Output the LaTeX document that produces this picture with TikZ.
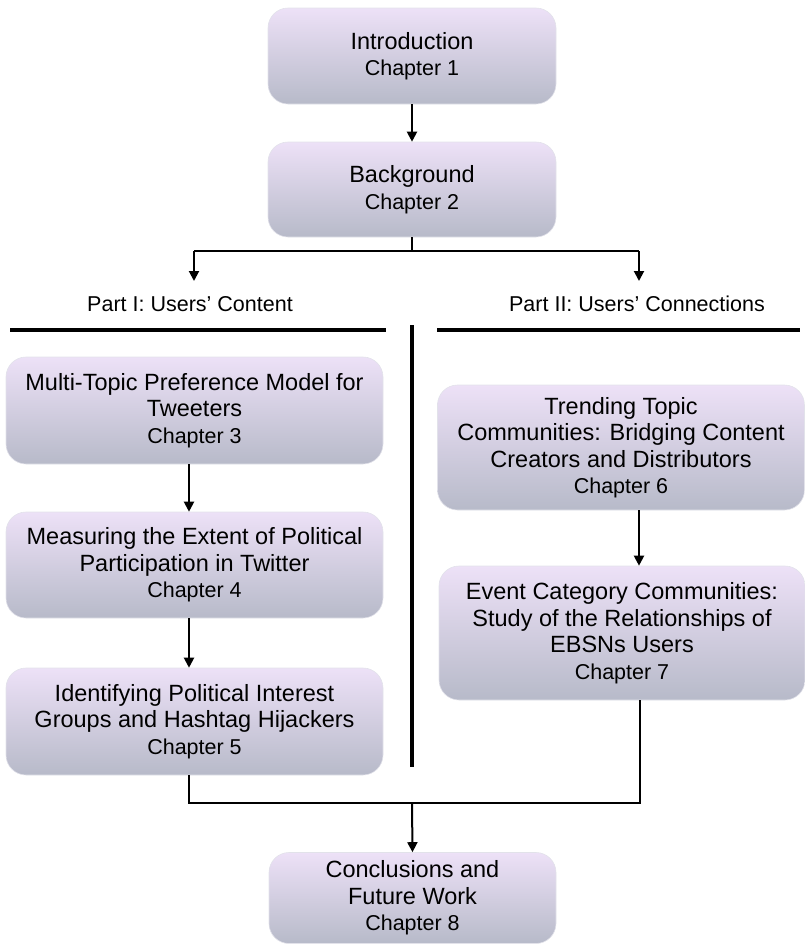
\documentclass[tikz,border=0pt]{standalone}
\usepackage{fontspec}
\setmainfont{Liberation Sans}
\usetikzlibrary{arrows.meta}
\definecolor{boxtop}{RGB}{237,225,247}
\definecolor{boxbot}{RGB}{183,186,201}
\definecolor{boxrim}{RGB}{226,226,234}
\newcommand\chapline[1]{{\fontsize{21.5}{26.5}\selectfont Chapter #1}}
\begin{document}
\begin{tikzpicture}[x=1pt,y=-1pt,
 chbox/.style={rounded corners=20pt, top color=boxtop, bottom color=boxbot, draw=boxrim, line width=0.6pt, align=center, inner sep=0pt, font=\fontsize{23.5}{26.5}\selectfont},
 conn/.style={line width=2pt, -{Triangle[width=10pt,length=10pt]}},
 plain/.style={line width=2pt},
 sepline/.style={line width=4pt},
 partlabel/.style={font=\fontsize{21.5}{24}\selectfont, inner sep=0pt, anchor=base}]
\useasboundingbox (0,0) rectangle (804,946);

% boxes
\node[chbox, minimum width=288pt, minimum height=96pt] (intro) at (412,56) {Introduction\\\chapline{1}};
\node[chbox, minimum width=288pt, minimum height=95pt] (bg) at (412,189.5) {Background\\\chapline{2}};

\node[chbox, minimum width=377pt, minimum height=107pt] (ch3) at (194.5,410.5) {Multi-Topic Preference Model for\\Tweeters\\\chapline{3}};
\node[chbox, minimum width=377pt, minimum height=106pt] (ch4) at (194.5,565) {Measuring the Extent of Political\\Participation in Twitter\\\chapline{4}};
\node[chbox, minimum width=377pt, minimum height=107pt] (ch5) at (194.5,721.5) {Identifying Political Interest\\Groups and Hashtag Hijackers\\\chapline{5}};

\node[chbox, minimum width=367pt, minimum height=125pt] (ch6) at (621,447.5) {Trending Topic\\Communities: Bridging Content\\Creators and Distributors\\\chapline{6}};
\node[chbox, minimum width=366pt, minimum height=134pt] (ch7) at (622,633) {Event Category Communities:\\Study of the Relationships of\\EBSNs Users\\\chapline{7}};

\node[chbox, minimum width=287pt, minimum height=91pt] (concl) at (412.5,898) {Conclusions and\\Future Work\\\chapline{8}};

% part labels
\node[partlabel] (partI) at (190,311) {Part I: Users’ Content};
\node[partlabel] (partII) at (637,311) {Part II: Users’ Connections};

% separators
\draw[sepline] (10,330) -- (386,330);
\draw[sepline] (437,330) -- (800,330);
\draw[sepline] (412,325) -- (412,767);

% top connectors
\draw[conn] (intro.south) -- (bg.north);
\coordinate (br) at (412,251);
\coordinate (pl) at (194,251);
\coordinate (pr) at (639,251);
\coordinate (plend) at (194,281);
\coordinate (prend) at (639,281);
\draw[plain] (bg.south) -- (br);
\draw[plain] (pl) -- (pr);
\draw[conn] (pl) -- (plend);
\draw[conn] (pr) -- (prend);

% left column
\coordinate (lx) at (189,0);
\draw[conn] (ch3.south -| lx) -- (ch4.north -| lx);
\draw[conn] (ch4.south -| lx) -- (ch5.north -| lx);

% right column
\draw[conn] (ch6.south -| pr) -- (ch7.north -| pr);

% merge
\coordinate (ml) at (189,803);
\coordinate (mr) at (640,803);
\coordinate (mm) at (412,803);
\draw[plain] (ch5.south -| ml) -- (ml) -- (mr) -- (mr |- ch7.south);
\draw[conn] (mm) -- (concl.north);
\end{tikzpicture}
\end{document}
